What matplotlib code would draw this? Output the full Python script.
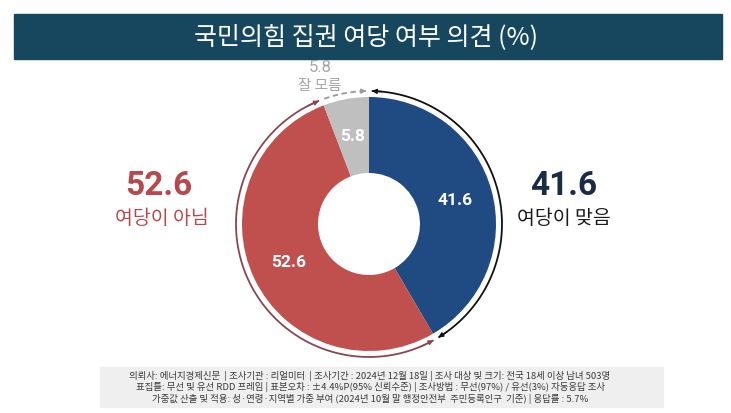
import numpy as np
import matplotlib.pyplot as plt
from matplotlib.patches import Rectangle

plt.rcParams['font.family'] = ['Noto Sans CJK KR', 'DejaVu Sans']

title = "국민의힘 집권 여당 여부 의견 (%)"
labels = ["여당이 맞음", "여당이 아님", "잘 모름"]
values = [41.6, 52.6, 5.8]
colors = ["#1f4a82", "#c0504d", "#bfbfbf"]
footer = [
    "의뢰사: 에너지경제신문  | 조사기관 : 리얼미터  | 조사기간 : 2024년 12월 18일 | 조사 대상 및 크기: 전국 18세 이상 남녀 503명",
    "표집틀: 무선 및 유선 RDD 프레임 | 표본오차 : ±4.4%P(95% 신뢰수준) | 조사방법 : 무선(97%) / 유선(3%) 자동응답 조사",
    "가중값 산출 및 적용: 성·연령·지역별 가중 부여 (2024년 10월 말 행정안전부  주민등록인구  기준) | 응답률 : 5.7%",
]

W, H = 731, 413
fig = plt.figure(figsize=(W / 100, H / 100), dpi=100)
ax = fig.add_axes([0, 0, 1, 1])
ax.set_xlim(0, W)
ax.set_ylim(0, H)
ax.set_aspect('equal')
ax.axis('off')

def Y(y):
    return H - y

# title banner
ax.add_patch(Rectangle((14, Y(59)), 708, 45, color="#17475f", zorder=1))
ax.text(W / 2, Y(37), title, color="white", fontsize=18, fontweight='medium',
        ha='center', va='center', zorder=2)

# donut
cx, cy, R = 369, Y(224), 127
ax.pie(values, colors=colors, startangle=90, counterclock=False, center=(cx, cy), radius=R,
       wedgeprops=dict(width=R - 51, linewidth=0), autopct='%.1f', pctdistance=0.7,
       textprops=dict(color='white', fontsize=12.5, fontweight='bold', family=['Roboto', 'Noto Sans CJK KR']))
ax.set_xlim(0, W)
ax.set_ylim(0, H)

# outer arcs around the slices
cum = np.cumsum([0] + values) / 100 * 360
ra = R + 6

def arc(a0, a1, color, ls='-', heads=(True, True)):
    t = np.radians(np.linspace(a0, a1, 100))
    xs = cx + ra * np.sin(t)
    ys = cy + ra * np.cos(t)
    ax.plot(xs, ys, color=color, lw=1.3, ls=ls, solid_capstyle='butt')
    ap = dict(arrowstyle='-|>', color=color, lw=1, mutation_scale=7, shrinkA=0, shrinkB=0)
    if heads[0]:
        ax.annotate('', xy=(xs[0], ys[0]), xytext=(xs[3], ys[3]), arrowprops=ap)
    if heads[1]:
        ax.annotate('', xy=(xs[-1], ys[-1]), xytext=(xs[-4], ys[-4]), arrowprops=ap)

arc(cum[0] + 1.2, cum[1] - 1.2, "#111111")
arc(cum[1] + 1.2, cum[2] - 1.2, "#8a4650")
arc(cum[2] + 1.2, cum[3] - 1.2, "#9a9a9a", ls=(0, (3, 2)), heads=(False, True))

num_font = ['Roboto', 'Noto Sans CJK KR']
ax.text(159, Y(186), f"{values[1]:.1f}", color="#b5494b", fontsize=24, fontweight='bold',
        ha='center', va='center', family=num_font)
ax.text(162, Y(218), labels[1], color="#b5494b", fontsize=14, ha='center', va='center')
ax.text(564, Y(186), f"{values[0]:.1f}", color="#1a2b45", fontsize=24, fontweight='bold',
        ha='center', va='center', family=num_font)
ax.text(564, Y(218), labels[0], color="#1a1a1a", fontsize=14, ha='center', va='center')
ax.text(320, Y(68), f"{values[2]:.1f}", color="#a6a6a6", fontsize=12, ha='center', va='center',
        family=num_font)
ax.text(320, Y(86), labels[2], color="#a6a6a6", fontsize=10.5, ha='center', va='center')

# footer
ax.add_patch(Rectangle((100, Y(407)), 563, 40, color="#efefef", zorder=1))
for i, line in enumerate(footer):
    ax.text(370, Y(376 + 11.5 * i), line, color="#3a3a3a", fontsize=6.8, ha='center', va='center', zorder=2)

fig.savefig("out.png", dpi=100)
